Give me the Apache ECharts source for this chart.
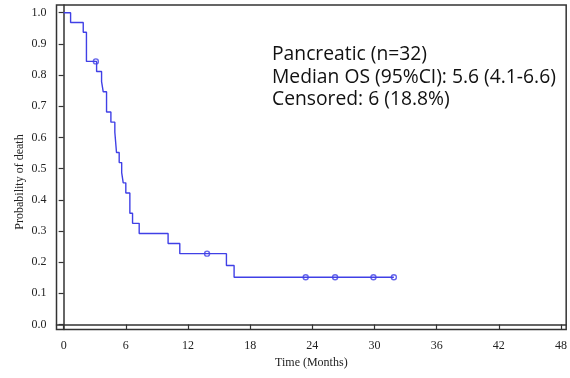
<!DOCTYPE html>
<html>
<head>
<meta charset="utf-8">
<script src="https://cdn.jsdelivr.net/npm/echarts@6/dist/echarts.min.js"></script>
<style>
html,body{margin:0;padding:0;background:#fff;}
#chart{width:570px;height:378px;}
</style>
</head>
<body>
<div id="chart"></div>
<script>
// Kaplan-Meier step points (time in months, survival value from that time on)
var kmTime = [0, 0.67, 1.89, 2.2, 3.18, 3.66, 3.82, 4.14, 4.56, 4.94, 5.1, 5.36, 5.6, 5.75, 6.0, 6.39, 6.65, 7.29, 10.08, 11.21, 15.71, 16.45, 31.87];
var kmSurv = [1.0, 0.9688, 0.9375, 0.8438, 0.8113, 0.7788, 0.7464, 0.6815, 0.649, 0.6166, 0.5517, 0.5192, 0.4868, 0.4543, 0.4219, 0.3570, 0.3245, 0.2921, 0.2596, 0.2272, 0.1893, 0.1514, 0.1514];
// Censored observations
var censorTime = [3.11, 13.84, 23.36, 26.2, 29.9, 31.87];
var censorSurv = [0.8438, 0.2272, 0.1514, 0.1514, 0.1514, 0.1514];
// Tick labels
var xTicks = [0, 6, 12, 18, 24, 30, 36, 42, 48];
var yTicks = [0, 0.1, 0.2, 0.3, 0.4, 0.5, 0.6, 0.7, 0.8, 0.9, 1.0];
var annotLines = ['Pancreatic (n=32)', 'Median OS (95%CI): 5.6 (4.1-6.6)', 'Censored: 6 (18.8%)'];

var blue = '#4040e6';
var axisCol = '#333333';
var serif = '"Liberation Serif", "DejaVu Serif", serif';

var chart = echarts.init(document.getElementById('chart'));
var g = [];
var ys = [55, 77.5, 100];
annotLines.forEach(function (s, i) {
  g.push({type: 'text', x: 272, y: ys[i],
    style: {text: s, font: '19.3px "Open Sans", "Noto Sans", sans-serif', fill: '#111', textVerticalAlign: 'middle'}});
});
g.push({type: 'text', x: 20, y: 182, rotation: Math.PI / 2,
  style: {text: 'Probability of death', font: '12px ' + serif, fill: '#222', textAlign: 'center', textVerticalAlign: 'middle'}});

var option = {
  animation: false,
  backgroundColor: '#ffffff',
  grid: {left: 56.5, right: 3, top: 5, bottom: 48.5, show: true, borderColor: axisCol, borderWidth: 1.5, containLabel: false},
  xAxis: {
    type: 'value', min: -0.69, max: 48.5,
    name: 'Time (Months)', nameLocation: 'middle', nameGap: 27,
    nameTextStyle: {fontFamily: serif, fontSize: 12, color: '#222'},
    axisLine: {show: true, lineStyle: {color: axisCol, width: 1.5}},
    axisTick: {show: true, length: 5, customValues: xTicks, lineStyle: {color: axisCol, width: 1.2}},
    axisLabel: {customValues: xTicks, margin: 10, fontFamily: serif, fontSize: 12, color: '#222'},
    splitLine: {show: false}
  },
  yAxis: {
    type: 'value', min: -0.016, max: 1.0247,
    axisLine: {show: true, lineStyle: {color: axisCol, width: 1.5}},
    axisTick: {show: true, length: 5, customValues: yTicks, lineStyle: {color: axisCol, width: 1.2}},
    axisLabel: {customValues: yTicks, margin: 10, fontFamily: serif, fontSize: 12, color: '#222',
      formatter: function (v) { return v.toFixed(1); }},
    splitLine: {show: false}
  },
  graphic: g,
  series: [
    {
      type: 'line', step: 'end', showSymbol: false,
      data: kmTime.map(function (t, i) { return [t, kmSurv[i]]; }),
      lineStyle: {color: blue, width: 1.4}
    },
    {
      type: 'scatter', symbol: 'circle', symbolSize: 5,
      data: censorTime.map(function (t, i) { return [t, censorSurv[i]]; }),
      itemStyle: {color: 'rgba(0,0,0,0)', borderColor: blue, borderWidth: 1.4}
    }
  ]
};
chart.setOption(option);
</script>
</body>
</html>
